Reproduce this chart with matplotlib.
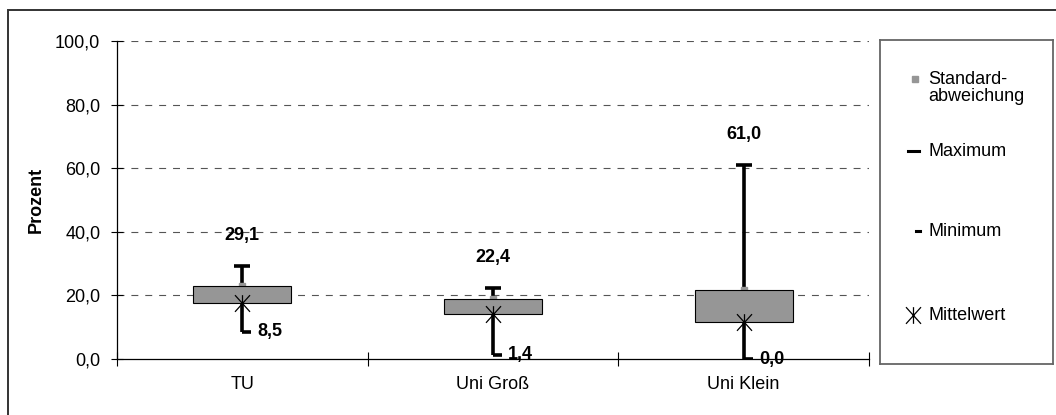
import numpy as np
import matplotlib
matplotlib.use('Agg')
import matplotlib.pyplot as plt
from matplotlib.path import Path
from matplotlib.patches import Rectangle

plt.rcParams['font.family'] = ['Liberation Sans', 'DejaVu Sans']
plt.rcParams['font.size'] = 13
plt.rcParams['lines.scale_dashes'] = False

# data
categories = ['TU', 'Uni Groß', 'Uni Klein']
maximum = [29.1, 22.4, 61.0]
minimum = [8.5, 1.4, 0.0]
std_val = [23.0, 18.9, 21.8]     # upper edge of box (Standardabweichung series)
mittelwert = [17.7, 14.2, 11.7]  # lower edge of box
yticks = [0, 20, 40, 60, 80, 100]

def fmt(v):
    return ('%.1f' % v).replace('.', ',')

W, H = 1056, 415
fig = plt.figure(figsize=(W/100, H/100), dpi=100)
ax = fig.add_axes([117/W, 1-359/H, 752/W, 318/H])

x = np.arange(len(categories))
box_gray = '#969696'

# excel style star: X plus vertical bar
M, L = Path.MOVETO, Path.LINETO
star = Path([(0, -1), (0, 1), (-0.9, -1), (0.9, 1), (-0.9, 1), (0.9, -1)],
            [M, L, M, L, M, L])
foot = Path([(0, 0), (1, 0)])

# whiskers
ax.vlines(x, minimum, maximum, color='black', lw=2.6, zorder=2)
ax.plot(x, maximum, ls='none', marker='_', ms=11, mew=2.6, color='black', zorder=2)
ax.plot(x, minimum, ls='none', marker=foot, ms=13, mew=2.6, mec='black', zorder=2)
# sd marker
ax.plot(x, std_val, ls='none', marker='s', ms=5, color=box_gray, zorder=2)
# box between mean and sd
h = np.array(std_val) - np.array(mittelwert)
ax.bar(x, h, bottom=mittelwert, width=0.39, color=box_gray, edgecolor='black',
       lw=0.8, zorder=3)
# mean
ax.plot(x, mittelwert, ls='none', marker=star, ms=12, mew=0.9, mec='black', zorder=4)

# labels
for xi, mx, mn in zip(x, maximum, minimum):
    ax.annotate(fmt(mx), (xi, mx), xytext=(0, 22), textcoords='offset points',
                ha='center', va='center', fontweight='bold', fontsize=13)
    ax.annotate(fmt(mn), (xi, mn), xytext=(11, 0), textcoords='offset points',
                ha='left', va='center', fontweight='bold', fontsize=13)

ax.set_xlim(-0.5, len(categories)-0.5)
ax.set_ylim(0, 100)
ax.set_yticks(yticks)
ax.set_yticklabels([fmt(v) for v in yticks])
for v in yticks[1:]:
    ax.axhline(v, color='#555555', lw=0.8, ls=(0, (5, 5)), zorder=1)

ax.set_xticks(np.arange(len(categories)+1)-0.5)
ax.set_xticklabels([])
ax.set_xticks(x, minor=True)
ax.set_xticklabels(categories, minor=True)
ax.tick_params(axis='x', which='major', direction='inout', length=10, width=0.8)
ax.tick_params(axis='x', which='minor', length=0, pad=12)
ax.tick_params(axis='y', direction='inout', length=8, width=0.8, pad=8)

for s in ['top', 'right']:
    ax.spines[s].set_visible(False)
for s in ['left', 'bottom']:
    ax.spines[s].set_linewidth(0.9)

ax.set_ylabel('Prozent', fontweight='bold')
ax.yaxis.set_label_coords(-0.096, 0.5)

# outer border
fig.add_artist(Rectangle((8/W, -0.1), 1.2, 1-10/H+0.1, transform=fig.transFigure,
                         fill=False, ec='#333333', lw=1.4))

# legend
lg = fig.add_axes([880/W, 1-364/H, 173/W, 324/H])
lg.set_xlim(0, 173)
lg.set_ylim(324, 0)
lg.set_xticks([])
lg.set_yticks([])
for s in lg.spines.values():
    s.set_color('#666666')
    s.set_linewidth(1.3)
lg.plot([35], [39], ls='none', marker='s', ms=4.5, color=box_gray)
lg.text(48, 48, 'Standard-\nabweichung', va='center', ha='left', linespacing=1.0)
lg.plot([28, 39], [111, 111], color='black', lw=2.2)
lg.text(48, 111, 'Maximum', va='center', ha='left')
lg.plot([36, 40], [191, 191], color='black', lw=2.2)
lg.text(48, 191, 'Minimum', va='center', ha='left')
lg.plot([33], [275], ls='none', marker=star, ms=12, mew=0.9, mec='black')
lg.text(48, 275, 'Mittelwert', va='center', ha='left')

fig.savefig('out.png', dpi=100)
